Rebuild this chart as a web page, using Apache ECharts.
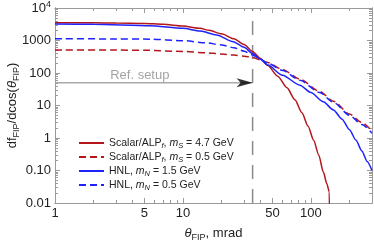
<!DOCTYPE html>
<html><head><meta charset="utf-8">
<script src="https://cdn.jsdelivr.net/npm/echarts@6/dist/echarts.min.js"></script>
<style>html,body{margin:0;padding:0;background:#fff}#c{width:374px;height:243px}</style>
</head><body><div id="c"></div>
<script>
// theta (mrad) vs dfFIP/dcos(theta)
const scalar47 = [[1,3530],[2,3500],[3,3450],[5,3350],[7,3150],[10,2800],[13.6,2370],[16,2050],[20,1600],[25,1130],[30,750],[35,460],[40,285],[46,170],[55,80],[65,35],[75,15],[85,6],[95,2.3],[105,0.85],[115,0.3],[125,0.09],[133,0.04],[139,0.022],[140.5,0.001]];
const scalar05 = [[1,510],[3,507],[5,500],[10,460],[15,420],[20,385],[25,355],[30,330],[35,300],[40,255],[46,210],[60,127],[82,65],[117,27],[150,13.5],[200,5.5],[250,3.0],[300,1.6]];
const hnl15 = [[1,3220],[2,3150],[5.5,2860],[10,2370],[13.6,1950],[18.3,1480],[24.7,920],[30,620],[35,400],[40,270],[46,175],[60,85],[82,42],[100,25],[125,13],[150,7.3],[175,3.8],[200,1.8],[225,0.85],[250,0.4],[275,0.19],[300,0.1]];
const hnl05 = [[1,1130],[3,1120],[5.5,1100],[10,990],[15,850],[20,730],[25,600],[30,470],[35,360],[40,270],[46,200],[60,120],[82,60],[117,25],[150,12.5],[200,5.0],[250,2.6],[300,1.4]];
const refSetup = 35;      // mrad, vertical dashed line
const refLevel = 50;      // arrow level
const xLabels = [1,5,10,50,100];
const xMinor = [2,3,4,6,7,8,9,20,30,40,60,70,80,90,200,300];
const yLabels = [0.01,0.1,1,10,100,1000,10000];
const yMinor = [];
[0.01,0.1,1,10,100,1000].forEach(d=>{for(let k=2;k<=9;k++) yMinor.push(+(d*k).toPrecision(3));});

const FONT = 'Liberation Sans, Arial, sans-serif';
const AX = '#9a9a9a';
const RED = '#b3151b', BLUE = '#1e22ff';

function yLab(v){
  const m = {0.01:'0.01',0.1:'0.10',1:'1',10:'10',100:'100',1000:'1000'};
  for (const k in m) if (Math.abs(v-k)/k < 1e-6) return m[k];
  if (Math.abs(v-10000) < 1e-3) return '10{sup|4}';
  return '';
}
function xAx(pos, major){
  return {type:'log', logBase:10, min:1, max:300, position:pos,
    axisLine:{show:true, onZero:false, lineStyle:{color:AX, width:1}},
    axisTick:{show:true, inside:true, length: major?5:3, customValues: major?xLabels:xMinor, lineStyle:{color:AX, width:1}},
    axisLabel:{show: major && pos==='bottom', customValues:xLabels, margin:4, color:'#222', fontFamily:FONT, fontSize:13,
      formatter: v => String(Math.round(v))},
    splitLine:{show:false}, minorTick:{show:false},
    name: (major && pos==='bottom') ? '{it|θ}{sub|FIP}, mrad' : '',
    nameLocation:'middle', nameGap:21, nameMoveOverlap:false,
    nameTextStyle:{color:'#222', fontFamily:FONT, fontSize:13, lineHeight:18,
      rich:{it:{fontStyle:'italic', fontFamily:FONT, fontSize:13, color:'#222'}, sub:{fontFamily:FONT, fontSize:9, lineHeight:10, verticalAlign:'bottom', color:'#222'}}}
  };
}
function yAx(pos, major){
  return {type:'log', logBase:10, min:0.01, max:10000, position:pos,
    axisLine:{show:true, onZero:false, lineStyle:{color:AX, width:1}},
    axisTick:{show:true, inside:true, length: major?5:3, customValues: major?yLabels:yMinor, lineStyle:{color:AX, width:1}},
    axisLabel:{show: major && pos==='left', customValues:yLabels, margin:4, color:'#222', fontFamily:FONT, fontSize:13, lineHeight:16,
      formatter: yLab, rich:{sup:{fontFamily:FONT, fontSize:9, lineHeight:9, verticalAlign:'top', color:'#222'}}},
    splitLine:{show:false}, minorTick:{show:false},
    name: (major && pos==='left') ? 'df{sub|FIP}/dcos({it|θ}{sub|FIP})' : '',
    nameLocation:'middle', nameGap:34, nameRotate:90, nameMoveOverlap:false,
    nameTextStyle:{color:'#222', fontFamily:FONT, fontSize:13, lineHeight:18,
      rich:{it:{fontStyle:'italic', fontFamily:FONT, fontSize:13, color:'#222'}, sub:{fontFamily:FONT, fontSize:9, lineHeight:10, verticalAlign:'bottom', color:'#222'}}}
  };
}
function curve(name, data, color, dashed){
  return {type:'line', name, data, symbol:'none', showSymbol:false, clip:true, smooth:0.25, smoothMonotone:'x',
    lineStyle:{color, width:1.5, type: dashed?[7,4]:'solid'}, itemStyle:{color}, emphasis:{disabled:true}, z:3};
}
const legendText = {
  'S47':'Scalar/ALP{subi|f}, {it|m}{subi|S} = 4.7 GeV',
  'S05':'Scalar/ALP{subi|f}, {it|m}{subi|S} = 0.5 GeV',
  'N15':'HNL, {it|m}{subi|N} = 1.5 GeV',
  'N05':'HNL, {it|m}{subi|N} = 0.5 GeV'
};
const chart = echarts.init(document.getElementById('c'), null, {renderer:'canvas'});
chart.setOption({
  animation:false,
  backgroundColor:'#fff',
  grid:{left:55, right:2, top:8, bottom:40, containLabel:false, outerBoundsMode:'none'},
  xAxis:[xAx('bottom',true), xAx('bottom',false), xAx('top',true), xAx('top',false)],
  yAxis:[yAx('left',true), yAx('left',false), yAx('right',true), yAx('right',false)],
  legend:{orient:'vertical', left:73, top:131, itemWidth:25, itemHeight:12, itemGap:0, selectedMode:false,
    itemStyle:{opacity:0},
    data:['S47','S05','N15','N05'],
    formatter: n => legendText[n],
    textStyle:{fontFamily:FONT, fontSize:10.5, color:'#222', lineHeight:14,
      rich:{it:{fontStyle:'italic', fontFamily:FONT, fontSize:10.5, color:'#222'},
            subi:{fontStyle:'italic', fontFamily:FONT, fontSize:7.5, lineHeight:8, verticalAlign:'bottom', color:'#222'}}}
  },
  series:[
    {type:'line', name:'refV', data:[[refSetup,0.01],[refSetup,10000]], symbol:'none', silent:true,
      lineStyle:{color:'#8a8a8a', width:1.5, type:[14,10]}, z:1},
    {type:'line', name:'refH', data:[[1,refLevel],[refSetup,refLevel]], symbol:'none', silent:true,
      lineStyle:{color:'#a8a8a8', width:1.5}, z:1},
    {type:'scatter', name:'arrow', data:[[refSetup,refLevel]], silent:true,
      symbol:'path://M0,0 L16,4.5 L0,9 L4,4.5 Z', symbolSize:[16,9], symbolOffset:[-8,0],
      itemStyle:{color:'#000'}, z:4},
    {type:'scatter', name:'reftext', data:[[4.6,87]], symbolSize:0, silent:true,
      label:{show:true, position:'inside', formatter:'Ref. setup', color:'#8c8c8c', fontFamily:FONT, fontSize:13}, z:4},
    curve('S47', scalar47, RED, false),
    curve('S05', scalar05, RED, true),
    curve('N15', hnl15, BLUE, false),
    curve('N05', hnl05, BLUE, true)
  ]
});
</script></body></html>
